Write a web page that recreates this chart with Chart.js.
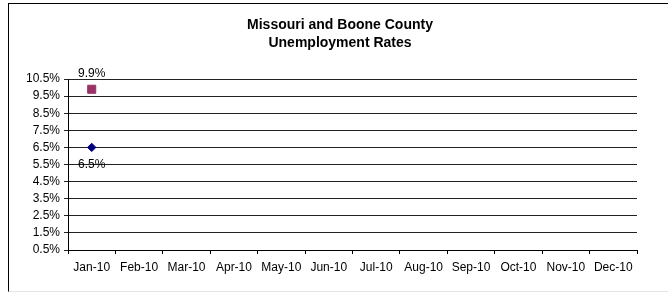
<!DOCTYPE html>
<html>
<head>
<meta charset="utf-8">
<script src="https://cdn.jsdelivr.net/npm/chart.js@4/dist/chart.umd.min.js"></script>
<style>
    html, body { margin: 0; padding: 0; background: #fff; overflow: hidden; }
    #frame {
        position: absolute; left: 8px; top: 3px; width: 700px; height: 287px;
        border: 1px solid #000; border-bottom-color: #e4e4e4;
    }
    #chart-container { position: absolute; left: 0; top: 0; }
</style>
</head>
<body>
<div id="frame"></div>
<canvas id="chart-container" width="668" height="292"></canvas>
<script>
// dados do gráfico
const months = ['Jan-10', 'Feb-10', 'Mar-10', 'Apr-10', 'May-10', 'Jun-10',
    'Jul-10', 'Aug-10', 'Sep-10', 'Oct-10', 'Nov-10', 'Dec-10'];
const missouri = [9.9, null, null, null, null, null, null, null, null, null, null, null];
const booneCounty = [6.5, null, null, null, null, null, null, null, null, null, null, null];
const yMin = 0.5;
const yMax = 10.5;
const yStep = 1;
const titleLines = ['Missouri and Boone County', 'Unemployment Rates'];

const fontFamily = "Arial, 'Liberation Sans', sans-serif";

// título desenhado à mão, centrado no quadro (não na área do gráfico)
const chartTitle = {
    id: 'chartTitle',
    afterDraw(chart) {
        const ctx = chart.ctx;
        ctx.save();
        ctx.font = 'bold 14px ' + fontFamily;
        ctx.fillStyle = '#000';
        ctx.textAlign = 'center';
        ctx.textBaseline = 'middle';
        titleLines.forEach((line, i) => {
            ctx.fillText(line, 340, 25 + i * 18);
        });
        ctx.restore();
    }
};

// rótulos dos pontos (9.9% acima, 6.5% abaixo)
const pointLabels = {
    id: 'pointLabels',
    afterDatasetsDraw(chart) {
        const ctx = chart.ctx;
        ctx.save();
        ctx.font = '12px ' + fontFamily;
        ctx.fillStyle = '#000';
        ctx.textAlign = 'center';
        ctx.textBaseline = 'middle';
        chart.data.datasets.forEach((ds, i) => {
            const meta = chart.getDatasetMeta(i);
            meta.data.forEach((pt, j) => {
                const v = ds.data[j];
                if (v === null) return;
                const dy = ds.labelPos === 'above' ? -16 : 17;
                ctx.fillText(v.toFixed(1) + '%', pt.x, pt.y + dy);
            });
        });
        ctx.restore();
    }
};

const ctx = document.getElementById('chart-container').getContext('2d');

const chart = new Chart(ctx, {
    type: 'line',
    data: {
        labels: months,
        datasets: [{
            label: 'Missouri',
            data: missouri,
            showLine: false,
            pointStyle: 'rect',
            pointRadius: 5.7,
            pointBackgroundColor: '#993366',
            pointBorderColor: '#993366',
            pointBorderWidth: 1,
            labelPos: 'above'
        }, {
            label: 'Boone County',
            data: booneCounty,
            showLine: false,
            pointStyle: 'rectRot',
            pointRadius: 4.2,
            pointBackgroundColor: '#000080',
            pointBorderColor: '#000080',
            pointBorderWidth: 1,
            labelPos: 'below'
        }]
    },
    options: {
        responsive: false,
        animation: false,
        events: [],
        layout: { padding: { left: 8, right: 31, top: 79, bottom: 0 } },
        plugins: {
            legend: { display: false },
            tooltip: { enabled: false },
            title: { display: false }
        },
        scales: {
            x: {
                offset: true,
                afterFit: scale => { scale.height = 42; },
                grid: {
                    offset: true,
                    drawOnChartArea: false,
                    drawTicks: true,
                    tickLength: 4,
                    color: '#000'
                },
                border: { color: '#000', width: 1 },
                ticks: {
                    color: '#000',
                    padding: 6,
                    maxRotation: 0,
                    autoSkip: false,
                    font: { family: fontFamily, size: 12 }
                }
            },
            y: {
                min: yMin,
                max: yMax,
                afterFit: scale => { scale.width = 60; },
                grid: {
                    color: '#222',
                    tickLength: 4
                },
                border: { color: '#000', width: 1 },
                ticks: {
                    stepSize: yStep,
                    autoSkip: false,
                    color: '#000',
                    padding: 4,
                    font: { family: fontFamily, size: 12 },
                    callback: v => v.toFixed(1) + '%'
                }
            }
        }
    },
    plugins: [pointLabels, chartTitle]
});
</script>
</body>
</html>
